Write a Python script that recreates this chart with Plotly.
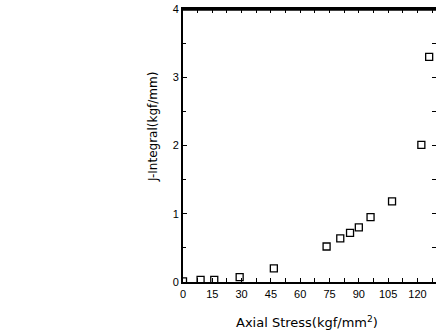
import plotly.graph_objects as go

# Data
axial_stress = [0, 9, 16, 29, 46.5, 73.5, 80.5, 85.5, 90, 96, 107, 122, 126]
j_integral = [0.01, 0.03, 0.03, 0.07, 0.2, 0.52, 0.64, 0.72, 0.80, 0.95, 1.18, 2.01, 3.30]

x_ticks = [0, 15, 30, 45, 60, 75, 90, 105, 120]
y_ticks = [0, 1, 2, 3, 4]

FONT = "Liberation Sans, Arial, sans-serif"
TFONT = "DejaVu Sans, sans-serif"

fig = go.Figure()
fig.add_trace(go.Scatter(
    x=axial_stress, y=j_integral, mode="markers",
    marker=dict(symbol="square-open", size=7, color="black", line=dict(width=1.3, color="black")),
    showlegend=False,
))
# invisible trace for the right-side tick axis
fig.add_trace(go.Scatter(x=[None], y=[None], yaxis="y2", showlegend=False, hoverinfo="skip"))

fig.update_layout(
    width=436, height=333,
    margin=dict(l=183, r=0, t=9, b=51),
    paper_bgcolor="white", plot_bgcolor="white",
    font=dict(family=FONT, size=11, color="black"),
    xaxis=dict(
        range=[0, 129.5], tickvals=x_ticks, ticktext=[str(v) for v in x_ticks],
        ticks="inside", ticklen=4, tickwidth=1, tickcolor="black",
        minor=dict(dtick=7.5, tick0=0, ticks="inside", ticklen=3, tickcolor="black"),
        showline=True, linecolor="black", linewidth=2, mirror="allticks",
        showgrid=False, zeroline=False, ticklabelstandoff=1,
        tickfont=dict(size=11, color="black"),
    ),
    yaxis=dict(
        range=[0, 4], tickvals=y_ticks, ticktext=[str(v) for v in y_ticks],
        ticks="inside", ticklen=4, tickwidth=1, tickcolor="black",
        minor=dict(dtick=0.5, tick0=0, ticks="inside", ticklen=3, tickcolor="black"),
        showline=True, linecolor="black", linewidth=2, mirror=False,
        showgrid=False, zeroline=False,
        tickfont=dict(size=11, color="black"),
    ),
    yaxis2=dict(
        range=[0, 4], overlaying="y", side="right", anchor="x",
        dtick=0.5, tick0=0, ticks="inside", ticklen=4, tickcolor="black",
        showticklabels=False, showline=False, showgrid=False, zeroline=False,
    ),
    shapes=[dict(
        type="line", xref="paper", yref="paper", x0=-0.004, x1=1, y0=0.998, y1=0.998,
        line=dict(color="black", width=2.5), layer="above",
    )],
    annotations=[
        dict(
            text="J-Integral(kgf/mm)", textangle=-90, xref="paper", yref="paper",
            x=-0.1186, y=0.571, xanchor="center", yanchor="middle", showarrow=False,
            font=dict(size=12, family=TFONT, color="black"),
        ),
        dict(
            text="Axial Stress(kgf/mm<sup>2</sup>)", xref="paper", yref="paper",
            x=0.492, y=0, yshift=-40, xanchor="center", yanchor="middle", showarrow=False,
            font=dict(size=13, family=TFONT, color="black"),
        ),
    ],
)

fig.write_html(
    "out.html",
    config={"displayModeBar": False},
    post_script="document.body.style.margin='0';document.body.style.overflow='hidden';",
)
